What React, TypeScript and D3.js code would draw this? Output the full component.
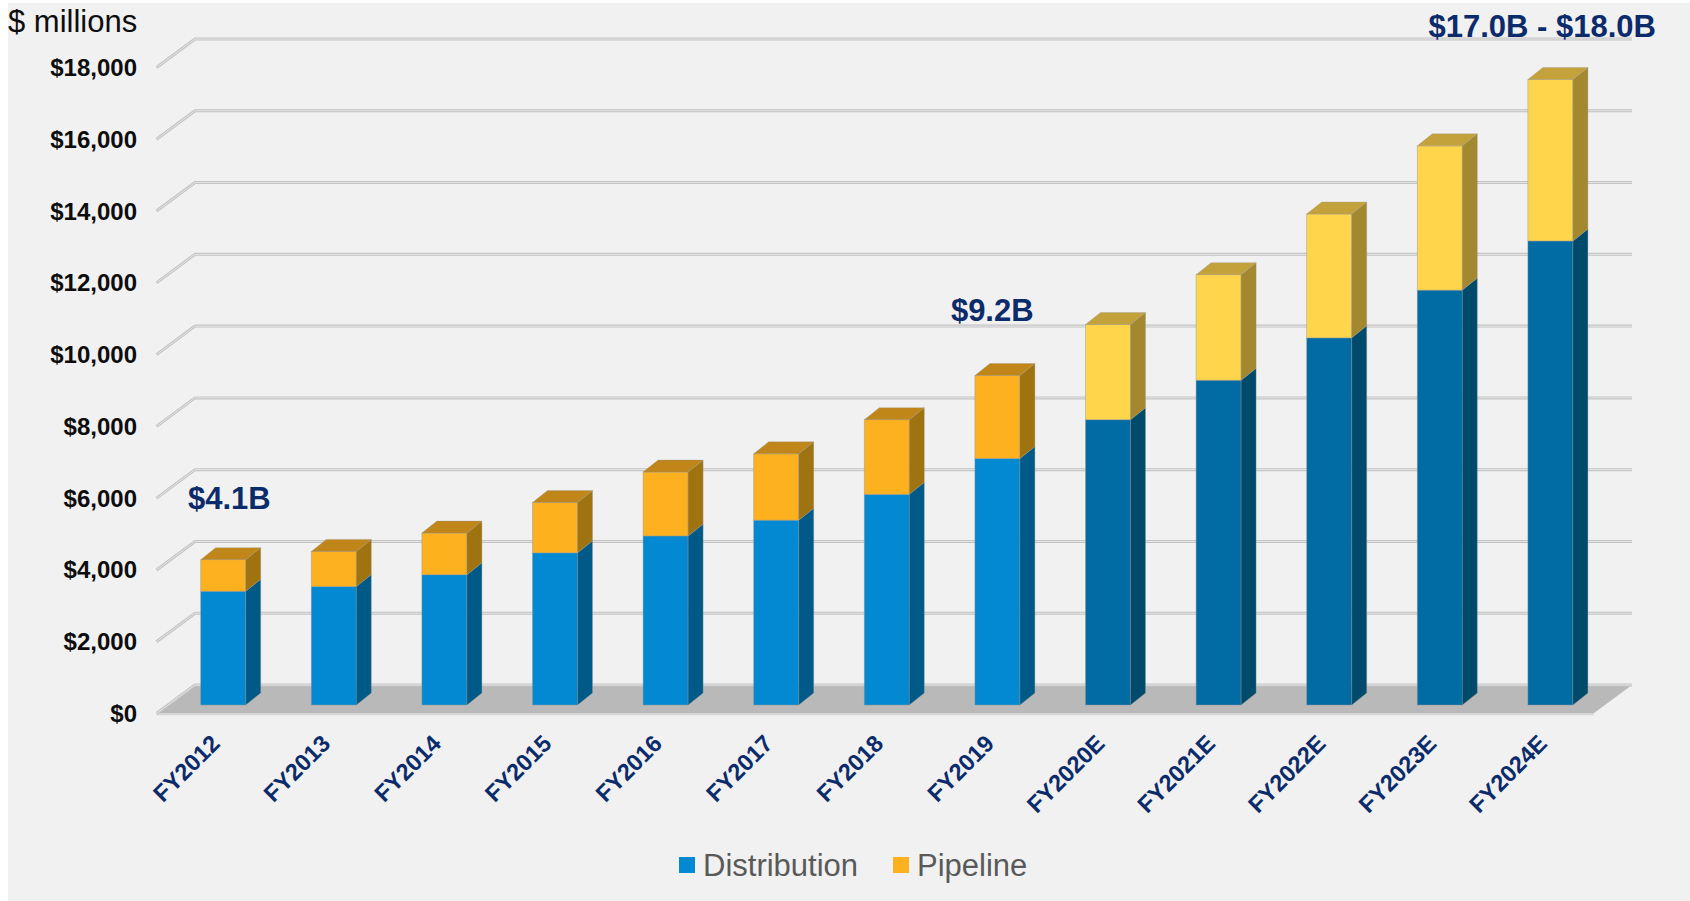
import React from "react";
import * as d3 from "d3";

const categories = [
  "FY2012", "FY2013", "FY2014", "FY2015", "FY2016", "FY2017", "FY2018",
  "FY2019", "FY2020E", "FY2021E", "FY2022E", "FY2023E", "FY2024E",
];
const distribution = [3170, 3300, 3630, 4240, 4710, 5150, 5870, 6870, 7950, 9050, 10230, 11560, 12930];
const pipeline = [880, 980, 1160, 1400, 1780, 1850, 2080, 2310, 2650, 2940, 3450, 4020, 4500];
const yTicks = [0, 2000, 4000, 6000, 8000, 10000, 12000, 14000, 16000, 18000];
const seriesNames = ["Distribution", "Pipeline"];
const annotations = [
  { cat: "FY2012", value: 5460, text: "$4.1B", dx: -12.7 },
  { cat: "FY2019", value: 10700, text: "$9.2B", dx: -24 },
];
const rangeLabel = "$17.0B - $18.0B";

const W = 1690;
const H = 901;
const FONT = "'Liberation Sans', Arial, sans-serif";
const NAVY = "#0B2B6B";

// colours: [front, side, top]
const palette = {
  actual: {
    dist: ["#0289D1", "#005A88", "#0577B0"],
    pipe: ["#FDB11F", "#A07311", "#C0861A"],
  },
  estimate: {
    dist: ["#016CA3", "#004A6C", "#015A88"],
    pipe: ["#FFD54B", "#A38830", "#C4A23B"],
  },
};

export default function App() {
  const backX0 = 195;
  const backX1 = 1632;
  const DX = 38.5;
  const DY = 28.5;
  const yBack = d3.scaleLinear().domain([0, 18000]).range([685, 39]);
  const yFront = (v: number) => yBack(v) + DY;
  const yBar = (v: number) => yBack(v) + 20;
  const bdx = 15;
  const bdy = -12;

  const x = d3
    .scaleBand<string>()
    .domain(categories)
    .range([167.9, 1605.7])
    .paddingInner(0.593)
    .paddingOuter(0.2965);
  const bw = x.bandwidth();

  const pts = (arr: number[][]) => arr.map((p) => p.join(",")).join(" ");

  const bars = categories.map((cat, i) => {
    const est = cat.endsWith("E");
    const pal = est ? palette.estimate : palette.actual;
    const x0 = x(cat) as number;
    const x1 = x0 + bw;
    const y0 = yBar(0);
    const yd = yBar(distribution[i]);
    const yt = yBar(distribution[i] + pipeline[i]);
    const stroke = "rgba(150,150,150,0.55)";
    return (
      <g key={cat}>
        <rect x={x0} y={yd} width={bw} height={y0 - yd} fill={pal.dist[0]} stroke={stroke} strokeWidth={0.8} />
        <polygon
          points={pts([[x1, yd], [x1 + bdx, yd + bdy], [x1 + bdx, y0 + bdy], [x1, y0]])}
          fill={pal.dist[1]}
          stroke={stroke}
          strokeWidth={0.6}
        />
        <rect x={x0} y={yt} width={bw} height={yd - yt} fill={pal.pipe[0]} stroke={stroke} strokeWidth={0.8} />
        <polygon
          points={pts([[x1, yt], [x1 + bdx, yt + bdy], [x1 + bdx, yd + bdy], [x1, yd]])}
          fill={pal.pipe[1]}
          stroke={stroke}
          strokeWidth={0.6}
        />
        <polygon
          points={pts([[x0, yt], [x0 + bdx, yt + bdy], [x1 + bdx, yt + bdy], [x1, yt]])}
          fill={pal.pipe[2]}
          stroke={stroke}
          strokeWidth={0.6}
        />
      </g>
    );
  });

  const gridPath = (v: number) =>
    `M${backX0 - DX},${yFront(v)} L${backX0},${yBack(v)} L${backX1},${yBack(v)}`;

  return (
    <svg
      width={W}
      height={H}
      style={{ position: "absolute", left: 0, top: 0, display: "block" }}
      fontFamily={FONT}
    >
      <rect x={0} y={0} width={W} height={H} fill="#ffffff" />
      <rect x={8} y={3} width={W - 8} height={H - 3} fill="#F1F1F1" />

      <polygon
        points={pts([
          [backX0, yBack(0)],
          [backX1, yBack(0)],
          [backX1 - DX, yFront(0)],
          [backX0 - DX, yFront(0)],
        ])}
        fill="#B9B9B9"
      />
      <line
        x1={backX0 - DX}
        x2={backX1 - DX}
        y1={yFront(0) + 1}
        y2={yFront(0) + 1}
        stroke="#D6D6D6"
        strokeWidth={1.5}
      />

      {yTicks.map((v) => (
        <g key={v} fill="none">
          <path d={gridPath(v)} stroke="#C3C3C3" strokeWidth={3} />
          <path d={gridPath(v)} stroke="#E6E6E6" strokeWidth={1} />
        </g>
      ))}

      {bars}

      {yTicks.map((v) => (
        <text
          key={v}
          x={137}
          y={yFront(v) + 8.5}
          textAnchor="end"
          fontSize={24}
          fontWeight="bold"
          fill="#0D0D0D"
        >
          {"$" + d3.format(",")(v)}
        </text>
      ))}

      {categories.map((cat) => {
        const cx = (x(cat) as number) + bw / 2 - 2;
        const cy = 745;
        return (
          <text
            key={cat}
            x={cx}
            y={cy}
            textAnchor="end"
            fontSize={23.5}
            fontWeight="bold"
            fill={NAVY}
            transform={`rotate(-45, ${cx}, ${cy})`}
          >
            {cat}
          </text>
        );
      })}

      {annotations.map((a) => (
        <text
          key={a.text}
          x={(x(a.cat) as number) + a.dx}
          y={yBar(a.value)}
          fontSize={31}
          fontWeight="bold"
          fill={NAVY}
        >
          {a.text}
        </text>
      ))}
      <text x={1656} y={37} textAnchor="end" fontSize={31} fontWeight="bold" fill={NAVY}>
        {rangeLabel}
      </text>

      <text x={8} y={31.5} fontSize={31} fill="#0D0D0D">
        $ millions
      </text>

      <rect x={679} y={857} width={16} height={16} fill={palette.actual.dist[0]} />
      <text x={703} y={876} fontSize={31} fill="#595959">
        {seriesNames[0]}
      </text>
      <rect x={893} y={857} width={16} height={16} fill={palette.actual.pipe[0]} />
      <text x={917} y={876} fontSize={31} fill="#595959">
        {seriesNames[1]}
      </text>
    </svg>
  );
}
